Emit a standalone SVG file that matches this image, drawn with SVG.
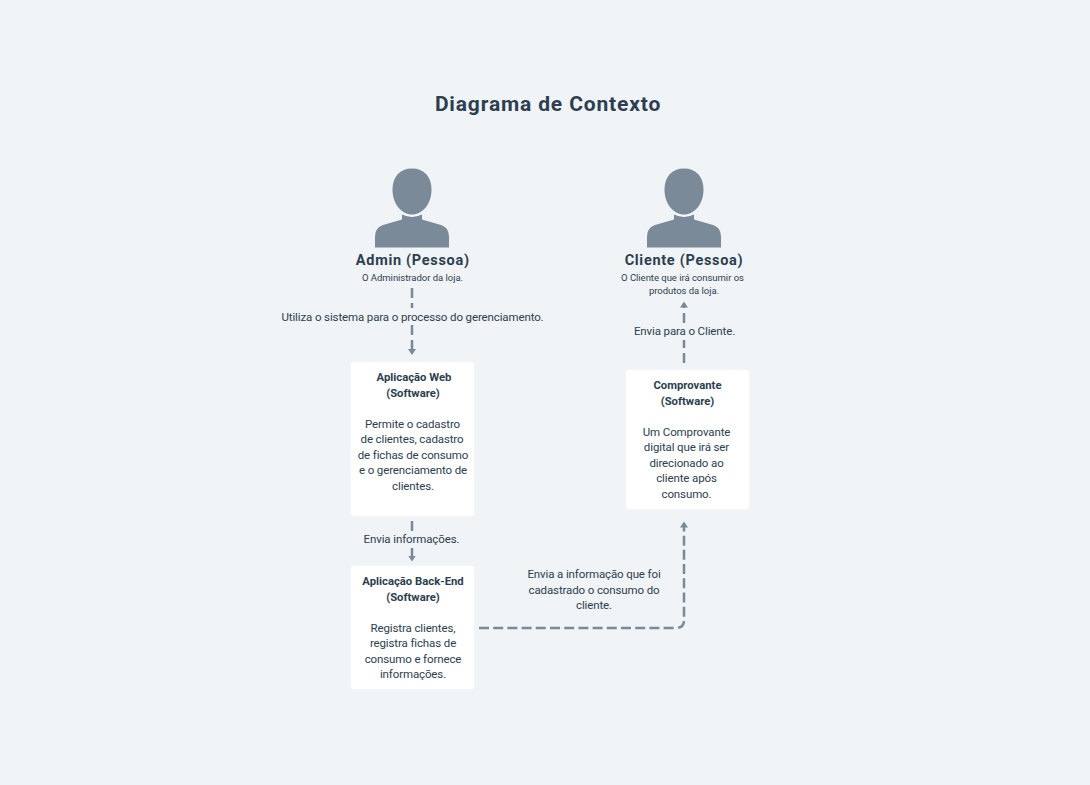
<svg xmlns="http://www.w3.org/2000/svg" width="1090" height="785" viewBox="0 0 1090 785">
<style>
text{font-family:"Roboto","Liberation Sans",sans-serif;text-anchor:middle;fill:#2c3e50}
.t{font-size:21px;font-weight:700;letter-spacing:.85px}
.h{font-size:14.5px;font-weight:700;letter-spacing:.7px}
.s{font-size:9.5px;letter-spacing:-.03px}
.b{font-size:11.5px;letter-spacing:-.12px}
.bb{font-size:11.3px;font-weight:700}
.box{fill:#fff;stroke:#f3f5f8;stroke-width:1}
.c{fill:none;stroke:#7b8a99;stroke-width:2.5;stroke-dasharray:10 5}
.p{fill:#7b8a99}
</style>
<defs>
<marker id="a" viewBox="0 0 6 8" refX="3" refY="4" markerWidth="6" markerHeight="8" markerUnits="userSpaceOnUse" orient="auto"><path d="M0 0L6 4L0 8Z" fill="#7b8a99"/></marker>
<g id="person">
<path class="p" d="M-19.500 21C-19.500 8-12 0 0 0C12 0 19.500 8 19.500 21C19.500 36 10 46 0 46C-10 46-19.500 36-19.500 21Z"/>
<path class="p" d="M-10 45Q0 50.500 10 45V51L29 56.500Q37 59 37 68V79H-37V68Q-37 59-29 56.500L-10 51Z"/>
<path d="M-10 45Q0 50.500 10 45" fill="none" stroke="#f4f6f9" stroke-width="1.500"/>
</g>
</defs>
<rect width="1090" height="785" fill="#f0f4f7"/>
<text class="t" x="548" y="111">Diagrama de Contexto</text>
<g id="connectors">
<path class="c" d="M412 288V308"/>
<path class="c" d="M412 325V352" marker-end="url(#a)"/>
<path class="c" d="M412 521V532"/>
<path class="c" d="M412 548V558.500" marker-end="url(#a)"/>
<path class="c" d="M684 363V340"/>
<path class="c" d="M684 323V304.500" marker-end="url(#a)"/>
<path class="c" style="stroke-dasharray:10 4.200" d="M479 628H676Q684 628 684 620V524.500" marker-end="url(#a)"/>
<text class="b" x="412.500" y="321">Utiliza o sistema para o processo do gerenciamento.</text>
<text class="b" x="411.500" y="543">Envia informações.</text>
<text class="b" x="684.500" y="335">Envia para o Cliente.</text>
<text class="b" x="594" y="578">Envia a informação que foi</text>
<text class="b" x="594" y="594">cadastrado o consumo do</text>
<text class="b" x="594" y="609">cliente.</text>
</g>
<g id="admin">
<use href="#person" x="412" y="168.500"/>
<text class="h" x="412.800" y="265">Admin (Pessoa)</text>
<text class="s" x="412.500" y="281">O Administrador da loja.</text>
</g>
<g id="cliente">
<use href="#person" x="684" y="168.500"/>
<text class="h" x="684" y="265">Cliente (Pessoa)</text>
<text class="s" x="682.500" y="281">O Cliente que irá consumir os</text>
<text class="s" x="684" y="294">produtos da loja.</text>
</g>
<g id="web">
<rect class="box" x="350.500" y="361.500" width="124" height="155" rx="3"/>
<text class="bb" x="414" y="381">Aplicação Web</text>
<text class="bb" x="413" y="397">(Software)</text>
<text class="b" x="412.500" y="428">Permite o cadastro</text>
<text class="b" x="412" y="443">de clientes, cadastro</text>
<text class="b" x="413" y="459">de fichas de consumo</text>
<text class="b" x="413" y="474">e o gerenciamento de</text>
<text class="b" x="413" y="490">clientes.</text>
</g>
<g id="backend">
<rect class="box" x="350.500" y="565.500" width="124" height="124" rx="3"/>
<text class="bb" x="413" y="585">Aplicação Back-End</text>
<text class="bb" x="413" y="601">(Software)</text>
<text class="b" x="413" y="632">Registra clientes,</text>
<text class="b" x="413" y="647">registra fichas de</text>
<text class="b" x="413" y="663">consumo e fornece</text>
<text class="b" x="413" y="678">informações.</text>
</g>
<g id="comprovante">
<rect class="box" x="625.500" y="369.500" width="124" height="140" rx="3"/>
<text class="bb" x="687.500" y="389">Comprovante</text>
<text class="bb" x="687.500" y="405">(Software)</text>
<text class="b" x="686.500" y="436">Um Comprovante</text>
<text class="b" x="686.500" y="451">digital que irá ser</text>
<text class="b" x="686.500" y="467">direcionado ao</text>
<text class="b" x="686.500" y="482">cliente após</text>
<text class="b" x="686.500" y="498">consumo.</text>
</g>
</svg>
